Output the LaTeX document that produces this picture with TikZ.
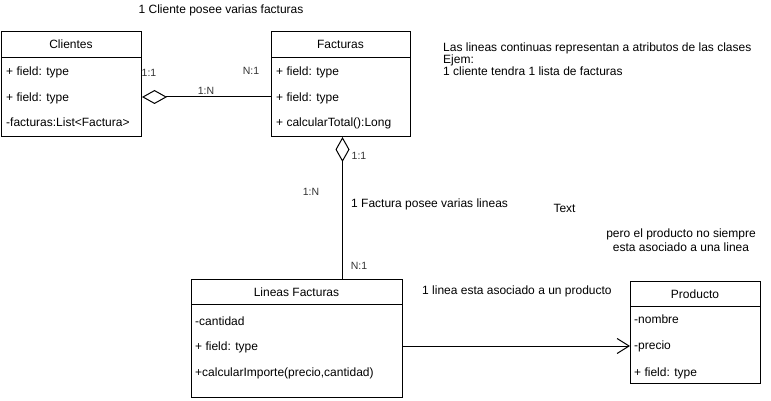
\documentclass[tikz,border=0pt]{standalone}
\usepackage{fontspec}
\setmainfont{Liberation Sans}
\usetikzlibrary{arrows.meta}
\usetikzlibrary{positioning}
\tikzset{cls/.style = {draw, rectangle, line width=1pt, inner sep=0, anchor=north west}}
\tikzset{ttl/.style = {inner sep=0, text height=8.6pt, text depth=0pt,
                       font=\fontsize{12}{14}\selectfont}}
\tikzset{fld/.style = {inner sep=0, anchor=west, text height=8.6pt, text depth=0pt,
                       font=\fontsize{12}{14}\selectfont}}
\tikzset{lbl/.style = {inner sep=0, text height=7.6pt, text depth=0pt, text=black!80,
                       font=\fontsize{10.5}{12}\selectfont}}
\tikzset{aggr/.style = {line width=1pt, arrows={{Diamond[open, length=25pt, width=14pt]}-}}}
\tikzset{assoc/.style = {line width=1pt, arrows={-{Straight Barb[length=12pt, width=15pt]}}}}

\begin{document}
\begin{tikzpicture}[x=1pt, y=-1pt]
      \useasboundingbox (0, 0) rectangle (771, 401);
      % clases
      \node [cls, minimum width=140, minimum height=105] (clientes) at (1, 31) {};
      \draw [line width=1pt] ([yshift=-27pt]clientes.north west) -- ([yshift=-27pt]clientes.north east);
      \node [ttl] (clientesT) at (71, 44.5) {Clientes};
      \node [fld] (cli1) at (6, 71) {+ field: type};
      \node [fld] (cli2) at (6, 97) {+ field: type};
      \node [fld] (cli3) at (6, 122) {-facturas:List<Factura>};

      \node [cls, minimum width=139, minimum height=105] (facturas) at (271, 31) {};
      \draw [line width=1pt] ([yshift=-27pt]facturas.north west) -- ([yshift=-27pt]facturas.north east);
      \node [ttl] (facturasT) at (340.5, 44.5) {Facturas};
      \node [fld] (fac1) at (276, 71) {+ field: type};
      \node [fld] (fac2) at (276, 97) {+ field: type};
      \node [fld] (fac3) at (276, 122) {+ calcularTotal():Long};

      \node [cls, minimum width=211, minimum height=118] (lineas) at (191, 279) {};
      \draw [line width=1pt] ([yshift=-25pt]lineas.north west) -- ([yshift=-25pt]lineas.north east);
      \node [ttl] (lineasT) at (296.5, 292) {Lineas Facturas};
      \node [fld] (lin1) at (195, 321) {-cantidad};
      \node [fld] (lin2) at (195, 346) {+ field: type};
      \node [fld] (lin3) at (195, 372) {+calcularImporte(precio,cantidad)};

      \node [cls, minimum width=130, minimum height=102] (producto) at (630, 281) {};
      \draw [line width=1pt] ([yshift=-25pt]producto.north west) -- ([yshift=-25pt]producto.north east);
      \node [ttl] (productoT) at (695, 294) {Producto};
      \node [fld] (pro1) at (634, 319) {-nombre};
      \node [fld] (pro2) at (634, 345) {-precio};
      \node [fld] (pro3) at (634, 372) {+ field: type};

      % relaciones
      \draw [aggr] (clientes.east |- fac2) -- (facturas.west |- fac2);
      \draw [aggr] ([xshift=1.5pt]facturas.south) -- ([xshift=1.5pt]facturas.south |- lineas.north);
      \draw [assoc] (lineas.east |- lin2) -- (producto.west |- lin2);

      % etiquetas
      \node [lbl] (m1) at (149, 73) {1:1};
      \node [lbl] (m2) at (251, 71) {N:1};
      \node [lbl] (m3) at (206, 91) {1:N};
      \node [lbl] (m4) at (359, 156) {1:1};
      \node [lbl] (m5) at (311, 192) {1:N};
      \node [lbl] (m6) at (359, 266) {N:1};
      \node [ttl] (t1) at (221, 9) {1 Cliente posee varias facturas};
      \node [fld] (t2) at (351, 203) {1 Factura posee varias lineas};
      \node [fld] (t3) at (422, 290) {1 linea esta asociado a un producto};
      \node [ttl] (t4) at (564.5, 208) {Text};
      \node [inner sep=0, anchor=north, align=center, font=\fontsize{12}{14}\selectfont]
            (t5) at (681, 229) {pero el producto no siempre\\ esta asociado a una linea};
      \node [inner sep=0, anchor=north west, align=left, font=\fontsize{12}{12}\selectfont]
            (t6) at (443, 42.5) {Las lineas continuas representan a atributos de las clases\\Ejem:\\1 cliente tendra 1 lista de facturas};
    \end{tikzpicture}
\end{document}
